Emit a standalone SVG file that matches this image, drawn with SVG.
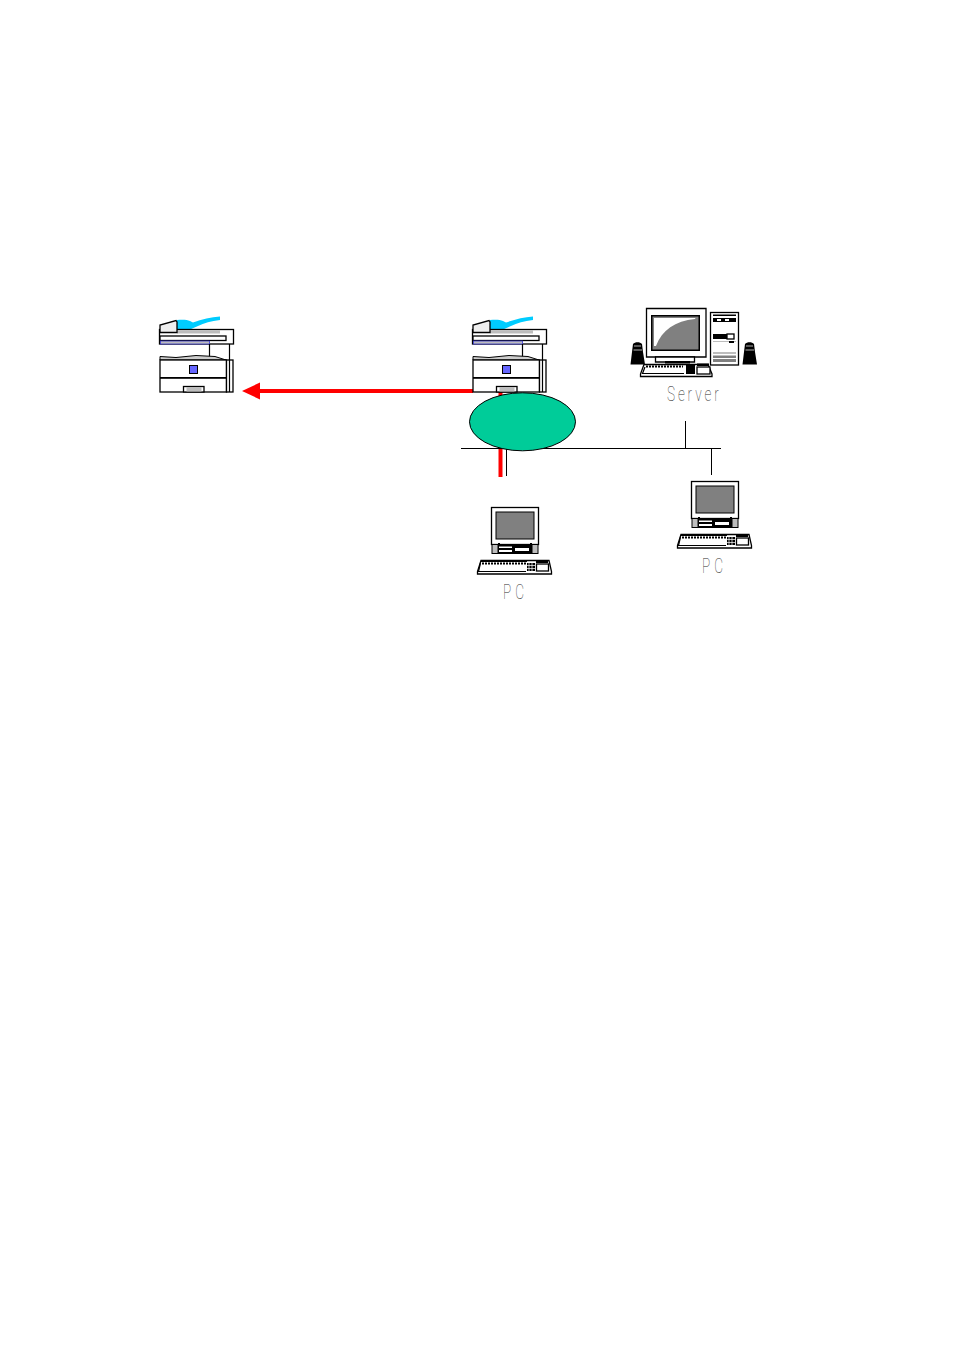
<svg xmlns="http://www.w3.org/2000/svg" width="954" height="1350" viewBox="0 0 954 1350">
<style>
.o{fill:#fff;stroke:#000;stroke-width:1.300}
.l{fill:none;stroke:#000;stroke-width:1.200}
.b{fill:#000}
.g{fill:#808080}
.s{fill:#bdbdbd}
.c{fill:none;stroke:#000;stroke-width:1}
.r{fill:none;stroke:#f00;stroke-width:4}
.lab{font-family:"Roboto","Liberation Sans",sans-serif;font-weight:100;fill:#222;font-size:20px;opacity:.95}
</style>
<defs>
<g id="mfp">
<path d="M177 320C182 319.500 187 319.500 190 321L193 322.500C202 319.500 211 317 220 316.500V320C211 321 204 323 198 326L190 329.500H177Z" fill="#00ccff"/>
<rect class="o" x="159.500" y="329.500" width="74" height="14.500"/>
<rect x="177" y="330.200" width="43" height="3.300" class="s"/>
<rect class="o" x="160" y="336" width="66" height="4.500"/>
<rect x="160.500" y="341" width="49" height="3" class="s" stroke="#3333cc" stroke-width=".8"/>
<path class="o" d="M160 332.500V325L176 320.500L177 322V332.500Z" style="fill:#eee"/>
<path class="l" d="M209.500 344V357M229.500 344V361"/>
<path d="M160 360V356.500L176 357.500L196 355.500L215 356.500L226 360Z" fill="#ccc" stroke="#000" stroke-width="1"/>
<rect class="o" x="160" y="360" width="66.500" height="32"/>
<rect class="o" x="226.500" y="360" width="6.500" height="32"/>
<path class="l" d="M229.500 360V392"/>
<rect x="189.500" y="365.500" width="8" height="8" fill="#6666ff" stroke="#000" stroke-width="1"/>
<rect class="b" x="160" y="377" width="66" height="1.800"/>
<rect class="o" x="183.500" y="386.500" width="20.500" height="5.500"/>
<rect class="s" x="186.500" y="387" width="15" height="4.500"/>
</g>
<g id="pc">
<rect class="o" x="491.500" y="507.500" width="47" height="37"/>
<rect x="496" y="512" width="38" height="27" class="g" stroke="#000" stroke-width="1"/>
<rect x="491.500" y="544" width="47" height="10" class="b"/>
<rect x="492.500" y="545" width="5" height="8" class="s"/>
<rect x="532.500" y="545" width="5" height="8" class="s"/>
<path d="M499 546.500H512V548H499ZM515 548H529V551H515ZM499 550H512V552H499Z" fill="#fff"/>
<rect x="498" y="543" width="2" height="2" class="b"/><rect x="530" y="543" width="2" height="2" class="b"/>
<path class="o" d="M481 560.500H549L551.500 571.500V574H477.500V571.500Z"/>
<path d="M481 560.500H527V562H481Z" class="b"/>
<path class="l" d="M480.500 563L478.500 571.500H526"/>
<path d="M482 563.500H526" stroke="#000" stroke-width="2" stroke-dasharray="2 1"/>
<rect x="527" y="563" width="8" height="8" class="b"/>
<path d="M529 563V571M532 563V571M527 565.500H535M527 568.500H535" stroke="#fff" stroke-width=".7"/>
<rect class="o" x="536.500" y="564" width="12" height="7"/>
<path d="M536 560.500H548V563H536Z" class="b"/>
</g>
</defs>
<g id="connectors">
<path class="r" d="M260 391H473"/>
<path d="M242 391L260 382.500V399.500Z" fill="#f00"/>
<path class="r" d="M500.500 392V477"/>
<path class="c" d="M461 448.500H721M506.500 448V476M685.500 421V448M711.500 448V475"/>
</g>
<g id="mfp-left"><use href="#mfp"/></g>
<g id="mfp-right"><use href="#mfp" x="313"/></g>
<g id="network"><ellipse cx="522.500" cy="421.800" rx="53" ry="29" fill="#00cc99" stroke="#000" stroke-width="1"/></g>
<g id="server">
<path class="o" d="M646.500 308.500H706V357H646.500Z"/>
<rect x="651" y="315" width="49" height="36" class="b"/>
<rect x="652.500" y="316.500" width="46" height="33" class="g"/>
<path d="M654 346V318H695.500L695 319C675 321 662 330 656 346Z" fill="#fff"/>
<path class="o" d="M655.500 357H694.500V362H655.500Z"/>
<rect class="b" x="665" y="361" width="25" height="2.500"/>
<rect class="o" x="710.500" y="312.500" width="28" height="52.500"/>
<rect class="b" x="713" y="314.500" width="23" height="1.500"/>
<rect class="b" x="713" y="318" width="23" height="4"/>
<rect fill="#fff" x="717" y="319" width="4" height="2"/><rect fill="#fff" x="725" y="319" width="4" height="2"/>
<rect class="b" x="713" y="334" width="14" height="5"/>
<rect class="o" x="727" y="334" width="7" height="5"/>
<rect class="s" x="713" y="341" width="23" height="1"/>
<rect class="b" x="729" y="341" width="5" height="2"/>
<rect class="s" x="713" y="352" width="23" height="2"/>
<rect class="g" x="713" y="355.500" width="23" height="2.500"/>
<rect class="g" x="713" y="359" width="23" height="3"/>
<g id="speaker-left"><path class="b" d="M633 344C635 341.500 640 341.500 642 344L643 352L645 364.500H630.500L632 352Z"/><path d="M634 346H641M633.500 350H642" stroke="#fff" stroke-width=".7"/></g>
<g id="speaker-right"><path class="b" d="M745 344C747 341.500 752 341.500 754 344L755 352L757 364.500H742.500L744 352Z"/><path d="M746 346H753M745.500 350H754" stroke="#fff" stroke-width=".7"/></g>
<path class="o" d="M644 364.500H708L712 374V376.500H640.500V374Z"/>
<path class="l" d="M645 367L642.500 373.500H684"/>
<path d="M646 366.500H683" stroke="#000" stroke-width="2" stroke-dasharray="2 1"/>
<rect class="b" x="686" y="365" width="9" height="9"/>
<rect class="o" x="697" y="367" width="13" height="7"/>
<rect class="b" x="697" y="363.500" width="12" height="2.500"/>
<text class="lab" transform="translate(667 401) scale(.68 1)" textLength="76" lengthAdjust="spacing">Server</text>
</g>
<g id="pc-bottom"><use href="#pc"/><text class="lab" transform="translate(503 599) scale(.68 1)" textLength="31" lengthAdjust="spacing">PC</text></g>
<g id="pc-right"><use href="#pc" x="200" y="-26"/><text class="lab" transform="translate(702 573) scale(.68 1)" textLength="31" lengthAdjust="spacing">PC</text></g>
</svg>
